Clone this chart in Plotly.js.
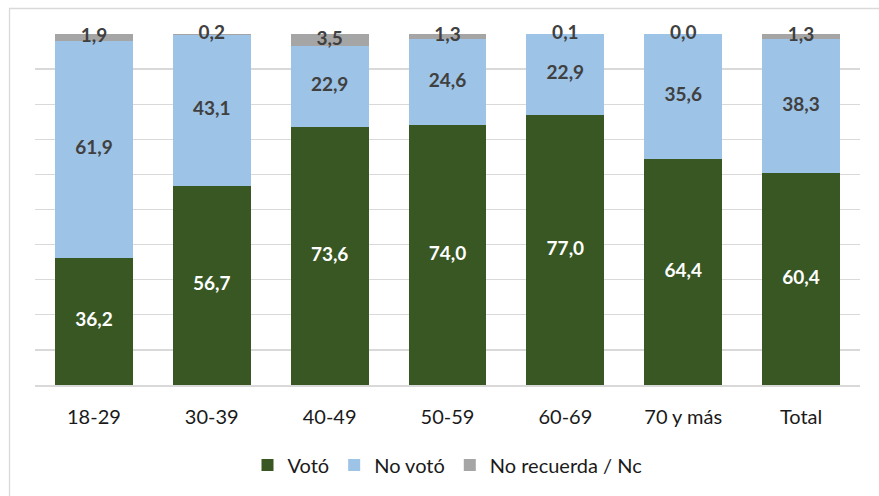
<!DOCTYPE html>
<html>
<head>
<meta charset="utf-8">
<script src="https://cdn.plot.ly/plotly-3.0.1.min.js"></script>
<style>html,body{margin:0;padding:0;background:#fff;}#chart{width:879px;height:496px;}</style>
</head>
<body>
<div id="chart"></div>
<script>
const categories = ["18-29", "30-39", "40-49", "50-59", "60-69", "70 y más", "Total"];
const voto = [36.2, 56.7, 73.6, 74.0, 77.0, 64.4, 60.4];
const noVoto = [61.9, 43.1, 22.9, 24.6, 22.9, 35.6, 38.3];
const noRecuerda = [1.9, 0.2, 3.5, 1.3, 0.1, 0.0, 1.3];
const seriesNames = ["Votó", "No votó", "No recuerda / Nc"];

const colors = ["#385723", "#9DC3E6", "#A5A5A5"];
const labelColors = ["#FFFFFF", "#404040", "#404040"];
const FONT = "Lato, 'Open Sans', sans-serif";

const series = [voto, noVoto, noRecuerda];
const fmt = v => v.toFixed(1).replace('.', ',');

const traces = [];
series.forEach((vals, i) => {
  traces.push({
    type: 'bar', x: categories, y: vals, name: seriesNames[i],
    marker: {color: colors[i], line: {width: 0}},
    hoverinfo: 'skip'
  });
});
// labels at segment midpoints
series.forEach((vals, i) => {
  const mids = vals.map((v, k) => {
    let base = 0;
    for (let j = 0; j < i; j++) base += series[j][k];
    return base + v / 2;
  });
  traces.push({
    type: 'scatter', mode: 'text', x: categories, y: mids,
    text: vals.map(fmt), showlegend: false, cliponaxis: false,
    textposition: 'middle center',
    textfont: {family: FONT, size: 19, color: labelColors[i], weight: 'bold'},
    hoverinfo: 'skip'
  });
});

const layout = {
  width: 879, height: 496,
  margin: {l: 35, r: 19, t: 34, b: 111},
  barmode: 'stack', bargap: 0.34,
  paper_bgcolor: '#fff', plot_bgcolor: '#fff',
  font: {family: FONT, color: '#1a1a1a'},
  showlegend: true,
  legend: {orientation: 'h', x: 0.5, xanchor: 'center', y: -0.228, yanchor: 'middle',
           font: {family: FONT, size: 20, color: '#1a1a1a'}, traceorder: 'normal'},
  xaxis: {type: 'category', showgrid: false, zeroline: false, showline: true,
          linecolor: '#D9D9D9', linewidth: 1.5, ticks: '',
          tickfont: {family: FONT, size: 20, color: '#1a1a1a'}, ticklabelstandoff: 13},
  yaxis: {range: [0, 100], dtick: 10, showticklabels: false, showgrid: true,
          gridcolor: '#D9D9D9', gridwidth: 1.3, zeroline: false, showline: false, ticks: ''},
  shapes: [{type: 'rect', xref: 'paper', yref: 'paper', x0: -0.0309, x1: 1.06, y0: -0.35, y1: 1.0726,
            line: {color: '#D9D9D9', width: 1.3}, fillcolor: 'rgba(0,0,0,0)', layer: 'below'}]
};

Plotly.newPlot('chart', traces, layout, {displayModeBar: false, staticPlot: true});
</script>
</body>
</html>
